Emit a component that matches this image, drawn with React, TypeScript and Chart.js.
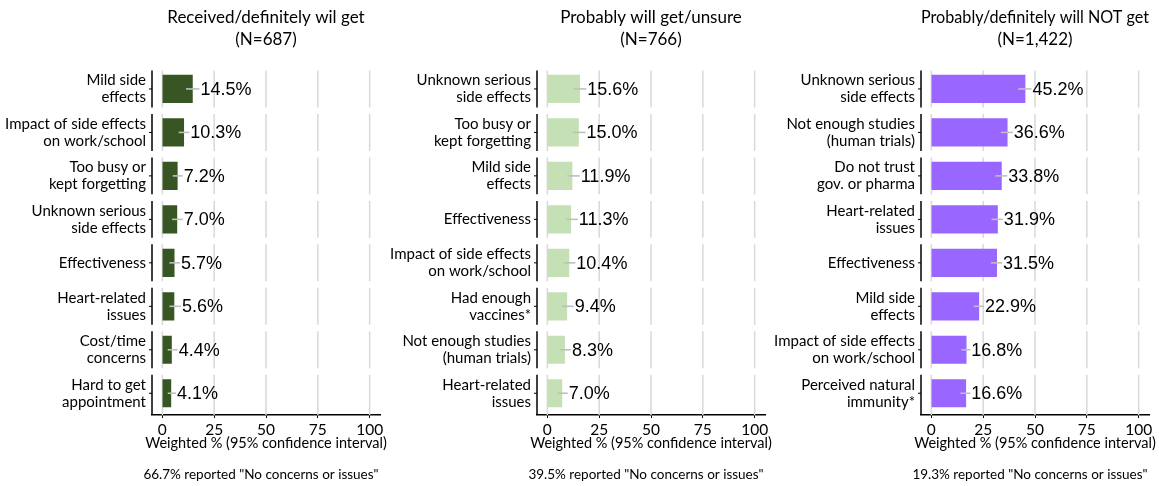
import React, { useEffect, useRef } from "react";
import { Chart, registerables } from "chart.js";

Chart.register(...registerables);

const FONT = 'Lato, "Open Sans", sans-serif';
const VALUE_FONT = '18px "Liberation Sans", Arial, sans-serif';
const W = 392;

const xTicks = [0, 25, 50, 75, 100];
const axisTitle = "Weighted % (95% confidence interval)";

// Panel 1
const title1 = ["Received/definitely wil get", "(N=687)"];
const note1 = '66.7% reported "No concerns or issues"';
const cats1 = [
  ["Mild side", "effects"],
  ["Impact of side effects", "on work/school"],
  ["Too busy or", "kept forgetting"],
  ["Unknown serious", "side effects"],
  ["Effectiveness"],
  ["Heart-related", "issues"],
  ["Cost/time", "concerns"],
  ["Hard to get", "appointment"],
];
const vals1 = [14.5, 10.3, 7.2, 7.0, 5.7, 5.6, 4.4, 4.1];
const lo1 = [11.4, 7.9, 5.0, 4.7, 3.4, 3.4, 2.6, 2.6];
const hi1 = [17.9, 13.0, 9.8, 9.8, 8.5, 9.0, 7.4, 6.6];

// Panel 2
const title2 = ["Probably will get/unsure", "(N=766)"];
const note2 = '39.5% reported "No concerns or issues"';
const cats2 = [
  ["Unknown serious", "side effects"],
  ["Too busy or", "kept forgetting"],
  ["Mild side", "effects"],
  ["Effectiveness"],
  ["Impact of side effects", "on work/school"],
  ["Had enough", "vaccines*"],
  ["Not enough studies", "(human trials)"],
  ["Heart-related", "issues"],
];
const vals2 = [15.6, 15.0, 11.9, 11.3, 10.4, 9.4, 8.3, 7.0];
const lo2 = [12.7, 12.2, 9.5, 8.9, 8.2, 7.1, 6.3, 5.0];
const hi2 = [18.8, 18.4, 15.6, 14.7, 13.5, 12.7, 11.4, 9.8];

// Panel 3
const title3 = ["Probably/definitely will NOT get", "(N=1,422)"];
const note3 = '19.3% reported "No concerns or issues"';
const cats3 = [
  ["Unknown serious", "side effects"],
  ["Not enough studies", "(human trials)"],
  ["Do not trust", "gov. or pharma"],
  ["Heart-related", "issues"],
  ["Effectiveness"],
  ["Mild side", "effects"],
  ["Impact of side effects", "on work/school"],
  ["Perceived natural", "immunity*"],
];
const vals3 = [45.2, 36.6, 33.8, 31.9, 31.5, 22.9, 16.8, 16.6];
const lo3 = [41.9, 33.5, 30.9, 29.0, 28.7, 20.4, 14.5, 14.0];
const hi3 = [48.3, 39.3, 36.6, 34.5, 34.1, 25.4, 18.8, 18.8];

const makePlugin = (vals: number[], lo: number[], hi: number[], note: string) => ({
  id: "facetDecor",
  beforeDatasetsDraw(chart: any) {
    const { ctx, chartArea, scales } = chart;
    const x = scales.x;
    const y = scales.y;
    const n = vals.length;
    const band = (chartArea.bottom - chartArea.top) / n;
    const half = band * 0.425;
    ctx.save();
    ctx.strokeStyle = "#d9d9d9";
    ctx.lineWidth = 1.5;
    for (let i = 0; i < n; i++) {
      const c = y.getPixelForValue(i);
      const top = c - half;
      const bot = i === n - 1 ? chartArea.bottom : c + half;
      for (const t of xTicks) {
        const px = x.getPixelForValue(t);
        ctx.beginPath();
        ctx.moveTo(px, top);
        ctx.lineTo(px, bot);
        ctx.stroke();
      }
    }
    ctx.restore();
  },
  afterDatasetsDraw(chart: any) {
    const { ctx, chartArea, scales } = chart;
    const x = scales.x;
    const y = scales.y;
    const n = vals.length;
    const band = (chartArea.bottom - chartArea.top) / n;
    const half = band * 0.425;
    ctx.save();
    // error bars
    ctx.strokeStyle = "#bfbfbf";
    ctx.lineWidth = 1.6;
    for (let i = 0; i < n; i++) {
      const c = y.getPixelForValue(i);
      ctx.beginPath();
      ctx.moveTo(x.getPixelForValue(lo[i]), c);
      ctx.lineTo(x.getPixelForValue(hi[i]), c);
      ctx.stroke();
    }
    // value labels
    ctx.fillStyle = "#000";
    ctx.font = VALUE_FONT;
    ctx.textAlign = "left";
    ctx.textBaseline = "middle";
    for (let i = 0; i < n; i++) {
      const c = y.getPixelForValue(i);
      ctx.fillText(vals[i].toFixed(1) + "%", x.getPixelForValue(hi[i]) + 1, c + 1);
    }
    // y axis segments and ticks
    ctx.strokeStyle = "#000";
    const lx = chartArea.left;
    for (let i = 0; i < n; i++) {
      const c = y.getPixelForValue(i);
      const top = c - half;
      const bot = i === n - 1 ? chartArea.bottom : c + half;
      ctx.lineWidth = 1.5;
      ctx.beginPath();
      ctx.moveTo(lx, top);
      ctx.lineTo(lx, bot);
      ctx.stroke();
      ctx.lineWidth = 1;
      ctx.beginPath();
      ctx.moveTo(lx - 3, c);
      ctx.lineTo(lx, c);
      ctx.stroke();
    }
    ctx.restore();
  },
  afterDraw(chart: any) {
    const { ctx, chartArea, scales } = chart;
    const x = scales.x;
    const cx = (chartArea.left + chartArea.right) / 2;
    ctx.save();
    ctx.fillStyle = "#000";
    ctx.textAlign = "center";
    ctx.textBaseline = "middle";
    ctx.font = `14.5px ${FONT}`;
    ctx.fillText(axisTitle, cx, x.bottom - 7.8);
    ctx.font = `13.5px ${FONT}`;
    ctx.fillText(note, cx - 5, chart.height - 11);
    ctx.restore();
  },
});

type PanelProps = {
  title: string[];
  note: string;
  cats: string[][];
  vals: number[];
  lo: number[];
  hi: number[];
  color: string;
  left: number;
};

function Panel({ title, note, cats, vals, lo, hi, color, left }: PanelProps) {
  const ref = useRef<HTMLCanvasElement>(null);
  useEffect(() => {
    const chart = new Chart(ref.current as HTMLCanvasElement, {
      type: "bar",
      data: {
        labels: cats,
        datasets: [
          {
            data: vals,
            backgroundColor: color,
            borderWidth: 0,
            barThickness: 27.5,
          },
        ],
      },
      options: {
        indexAxis: "y",
        animation: false,
        responsive: false,
        maintainAspectRatio: false,
        layout: { padding: { left: 0, right: W - 380, top: 0, bottom: 35 } },
        plugins: {
          legend: { display: false },
          tooltip: { enabled: false },
          title: {
            display: true,
            text: title,
            fullSize: false,
            color: "#000",
            font: { family: FONT, size: 17, weight: "normal", lineHeight: 1.3 },
            padding: { top: 6, bottom: 17 },
          },
        },
        scales: {
          x: {
            type: "linear",
            min: -5,
            max: 105,
            afterBuildTicks: (s: any) => {
              s.ticks = xTicks.map((v) => ({ value: v }));
            },
            afterFit: (s: any) => {
              s.height = 36;
            },
            grid: {
              display: true,
              drawOnChartArea: false,
              drawTicks: true,
              tickLength: 3,
              color: "#000",
              lineWidth: 1,
            },
            border: { display: true, color: "#000", width: 1.5 },
            ticks: {
              color: "#000",
              font: { family: FONT, size: 15.5, lineHeight: 1.1 },
              padding: 3.5,
              maxRotation: 0,
              autoSkip: false,
            },
          },
          y: {
            type: "category",
            grid: { display: false, drawTicks: false },
            border: { display: false },
            afterFit: (s: any) => {
              s.width = 152;
            },
            ticks: {
              color: "#000",
              font: { family: FONT, size: 15, lineHeight: 1.12 },
              padding: 6,
              autoSkip: false,
            },
          },
        },
      },
      plugins: [makePlugin(vals, lo, hi, note)],
    } as any);
    return () => chart.destroy();
  }, []);
  return (
    <div style={{ position: "absolute", left, top: 0, width: W, height: 486 }}>
      <canvas ref={ref} width={W} height={486} style={{ width: W, height: 486, display: "block" }} />
    </div>
  );
}

export default function App() {
  return (
    <div style={{ position: "fixed", left: 0, top: 0, width: 1159, height: 486, background: "#fff", overflow: "hidden" }}>
      <Panel title={title1} note={note1} cats={cats1} vals={vals1} lo={lo1} hi={hi1} color="#375623" left={0} />
      <Panel title={title2} note={note2} cats={cats2} vals={vals2} lo={lo2} hi={hi2} color="#c5e0b4" left={385} />
      <Panel title={title3} note={note3} cats={cats3} vals={vals3} lo={lo3} hi={hi3} color="#9966ff" left={769} />
    </div>
  );
}
